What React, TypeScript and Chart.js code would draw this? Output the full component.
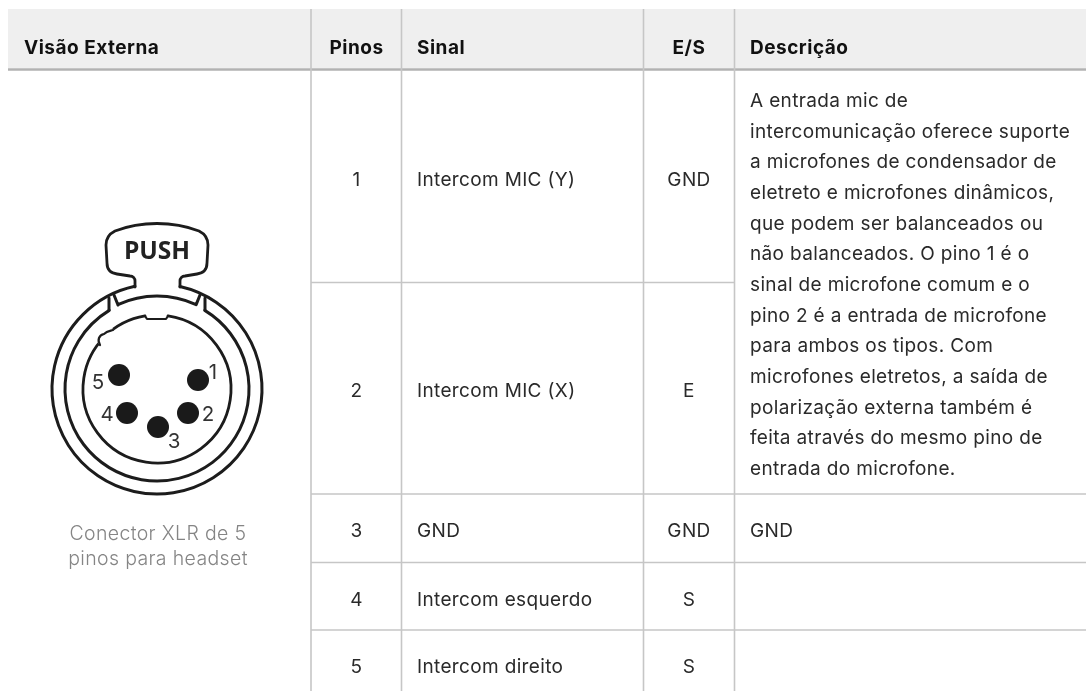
import React, { useEffect, useRef } from "react";
import { Chart, registerables } from "chart.js";

Chart.register(...registerables);

const FONT = "Inter, sans-serif";

const headers = ["Visão Externa", "Pinos", "Sinal", "E/S", "Descrição"];
const pins = ["1", "2", "3", "4", "5"];
const signals = ["Intercom MIC (Y)", "Intercom MIC (X)", "GND", "Intercom esquerdo", "Intercom direito"];
const directions = ["GND", "E", "GND", "S", "S"];
const descriptionLines = [
  "A entrada mic de",
  "intercomunicação oferece suporte",
  "a microfones de condensador de",
  "eletreto e microfones dinâmicos,",
  "que podem ser balanceados ou",
  "não balanceados. O pino 1 é o",
  "sinal de microfone comum e o",
  "pino 2 é a entrada de microfone",
  "para ambos os tipos. Com",
  "microfones eletretos, a saída de",
  "polarização externa também é",
  "feita através do mesmo pino de",
  "entrada do microfone.",
];
const captionLines = ["Conector XLR de 5", "pinos para headset"];
const columnEdges = [311, 401.5, 643.5, 734.5];
const rowEdges = [282.5, 494, 562.5, 630];
const rowBaselines = [186, 397, 537, 605.5, 673];
const pinPoints = [
  { x: 198, y: 380 },
  { x: 188, y: 413 },
  { x: 158, y: 427 },
  { x: 127, y: 413 },
  { x: 119, y: 375 },
];
const pinLabelPoints = [
  { x: 213, y: 379 },
  { x: 208, y: 420.5 },
  { x: 174, y: 447.5 },
  { x: 107, y: 420.5 },
  { x: 98, y: 388.5 },
];

const tablePlugin = {
  id: "tablePlugin",
  beforeDatasetsDraw(chart: any) {
    const { ctx, scales } = chart;
    const X = (v: number) => scales.x.getPixelForValue(v);
    const Y = (v: number) => scales.y.getPixelForValue(v);
    ctx.save();
    ctx.fillStyle = "#efefef";
    ctx.fillRect(X(8), Y(9), X(1086) - X(8), Y(68) - Y(9));
    ctx.restore();
  },
  afterDatasetsDraw(chart: any) {
    const { ctx, scales } = chart;
    const X = (v: number) => scales.x.getPixelForValue(v);
    const Y = (v: number) => scales.y.getPixelForValue(v);
    const text = (
      s: string,
      x: number,
      y: number,
      font: string,
      color: string,
      align: CanvasTextAlign = "left",
      spacing = "0px"
    ) => {
      ctx.font = font;
      ctx.letterSpacing = spacing;
      ctx.fillStyle = color;
      ctx.textAlign = align;
      ctx.textBaseline = "alphabetic";
      ctx.fillText(s, X(x), Y(y));
    };
    ctx.save();
    ctx.strokeStyle = "#1c1c1c";
    ctx.lineWidth = 3;
    ctx.lineCap = "round";
    ctx.lineJoin = "round";
    const cx = X(157);
    const cy = Y(389);
    const ang = (px: number, py: number) => Math.atan2(py - 389, px - 157);

    // outer ring, open at the neck of the latch
    ctx.beginPath();
    ctx.arc(cx, cy, 105, ang(180, 286.5), ang(135, 286.5) + Math.PI * 2);
    ctx.stroke();
    // middle ring, open at the latch
    ctx.beginPath();
    ctx.arc(cx, cy, 92, ang(205, 310), ang(109, 310) + Math.PI * 2);
    ctx.stroke();
    // notches joining the middle ring to the outer ring
    ctx.beginPath();
    ctx.moveTo(X(109), Y(310));
    ctx.lineTo(X(109), Y(298));
    ctx.moveTo(X(205), Y(310));
    ctx.lineTo(X(205), Y(298));
    ctx.stroke();
    // latch bar
    ctx.beginPath();
    ctx.moveTo(X(114), Y(295));
    ctx.lineTo(X(118), Y(305));
    ctx.arc(cx, cy, 93, ang(118, 305), ang(196, 305));
    ctx.lineTo(X(200), Y(295));
    ctx.stroke();
    // inner ring with key bump and top flat
    ctx.lineWidth = 2.8;
    ctx.beginPath();
    ctx.arc(cx, cy, 74, ang(168, 316), ang(145, 316) + Math.PI * 2, false);
    ctx.stroke();
    ctx.strokeStyle = "#ffffff";
    ctx.lineWidth = 4.5;
    ctx.beginPath();
    ctx.arc(cx, cy, 74, ang(101, 343), ang(112, 331));
    ctx.stroke();
    ctx.strokeStyle = "#1c1c1c";
    ctx.lineWidth = 2.2;
    ctx.beginPath();
    ctx.moveTo(X(100), Y(345));
    ctx.bezierCurveTo(X(97), Y(340), X(99), Y(335), X(104), Y(334));
    ctx.bezierCurveTo(X(107), Y(331), X(110), Y(331), X(113), Y(330));
    ctx.stroke();
    ctx.beginPath();
    ctx.moveTo(X(145), Y(316));
    ctx.lineTo(X(147), Y(319));
    ctx.lineTo(X(166), Y(319));
    ctx.lineTo(X(168), Y(316));
    ctx.stroke();

    // latch tab
    ctx.lineWidth = 2.8;
    ctx.beginPath();
    ctx.moveTo(X(135), Y(287));
    ctx.lineTo(X(135), Y(281));
    ctx.bezierCurveTo(X(135), Y(278), X(133), Y(276), X(130), Y(276));
    ctx.lineTo(X(117), Y(274));
    ctx.bezierCurveTo(X(110), Y(273), X(107), Y(269), X(107), Y(263));
    ctx.lineTo(X(106), Y(245));
    ctx.bezierCurveTo(X(106), Y(238), X(109), Y(234), X(115), Y(231));
    ctx.bezierCurveTo(X(128), Y(226), X(142), Y(223.5), X(157), Y(223.5));
    ctx.bezierCurveTo(X(172), Y(223.5), X(186), Y(226), X(199), Y(231));
    ctx.bezierCurveTo(X(205), Y(234), X(208), Y(238), X(208), Y(245));
    ctx.lineTo(X(207), Y(263));
    ctx.bezierCurveTo(X(207), Y(269), X(204), Y(273), X(197), Y(274));
    ctx.lineTo(X(185), Y(276));
    ctx.bezierCurveTo(X(182), Y(276), X(180), Y(278), X(180), Y(281));
    ctx.lineTo(X(180), Y(287));
    ctx.stroke();

    text("PUSH", 157, 259, `700 24.5px "Open Sans", sans-serif`, "#222222", "center");
    captionLines.forEach((l, i) =>
      text(l, 158, 540 + i * 25, `300 19.5px ${FONT}`, "#858585", "center", "0.35px")
    );
    pinLabelPoints.forEach((p, i) => text(pins[i], p.x, p.y, `400 20.5px ${FONT}`, "#333333", "center"));

    const head = `700 19px ${FONT}`;
    const hs = "0.5px";
    text(headers[0], 24, 54, head, "#111111", "left", hs);
    text(headers[1], 356.5, 54, head, "#111111", "center", hs);
    text(headers[2], 417, 54, head, "#111111", "left", hs);
    text(headers[3], 689, 54, head, "#111111", "center", hs);
    text(headers[4], 750, 54, head, "#111111", "left", hs);

    const body = `400 19px ${FONT}`;
    const bs = "0.35px";
    rowBaselines.forEach((y, i) => {
      text(pins[i], 356.5, y, body, "#2a2a2a", "center", bs);
      text(signals[i], 417, y, body, "#2a2a2a", "left", bs);
      text(directions[i], 689, y, body, "#2a2a2a", "center", bs);
    });
    text("GND", 750, rowBaselines[2], body, "#2a2a2a", "left", bs);
    descriptionLines.forEach((l, i) => text(l, 750, 107 + i * 30.67, body, "#2a2a2a", "left", bs));
    ctx.restore();
  },
};

export default function App() {
  const ref = useRef<HTMLCanvasElement>(null);
  useEffect(() => {
    const lineDs = (pts: { x: number; y: number }[], color: string, width: number) => ({
      type: "line" as const,
      data: pts,
      borderColor: color,
      borderWidth: width,
      pointRadius: 0,
      showLine: true,
      parsing: false as const,
    });
    const chart = new Chart(ref.current!, {
      type: "scatter",
      data: {
        datasets: [
          ...columnEdges.map((x) => lineDs([{ x, y: 9 }, { x, y: 691 }], "#c6c6c6", 1.6)),
          lineDs([{ x: 8, y: 69.5 }, { x: 1086, y: 69.5 }], "#b2b2b2", 2.4),
          lineDs([{ x: columnEdges[0], y: rowEdges[0] }, { x: columnEdges[3], y: rowEdges[0] }], "#c6c6c6", 1.4),
          lineDs([{ x: columnEdges[0], y: rowEdges[1] }, { x: 1086, y: rowEdges[1] }], "#c6c6c6", 1.4),
          lineDs([{ x: columnEdges[0], y: rowEdges[2] }, { x: 1086, y: rowEdges[2] }], "#c6c6c6", 1.4),
          lineDs([{ x: columnEdges[0], y: rowEdges[3] }, { x: 1086, y: rowEdges[3] }], "#c6c6c6", 1.4),
          {
            type: "scatter" as const,
            data: pinPoints,
            pointRadius: 11,
            pointBackgroundColor: "#1a1a1a",
            pointBorderWidth: 0,
          },
        ] as any,
      },
      options: {
        animation: false,
        responsive: false,
        layout: { padding: 0, autoPadding: false },
        plugins: { legend: { display: false }, tooltip: { enabled: false } },
        scales: {
          x: { type: "linear", min: 0, max: 1086, display: false },
          y: { type: "linear", min: 0, max: 691, reverse: true, display: false },
        },
      },
      plugins: [tablePlugin],
    });
    return () => chart.destroy();
  }, []);
  return (
    <div style={{ position: "fixed", left: 0, top: 0, width: 1086, height: 691, background: "#ffffff" }}>
      <canvas ref={ref} width={1086} height={691} style={{ display: "block" }} />
    </div>
  );
}
